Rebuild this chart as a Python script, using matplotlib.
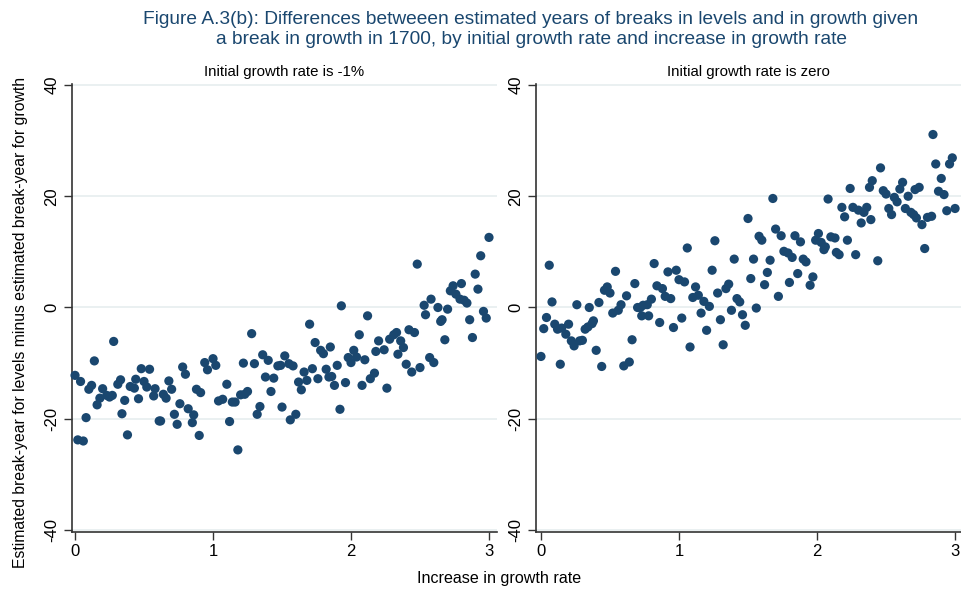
import matplotlib
matplotlib.use('Agg')
import matplotlib.pyplot as plt

# Left panel: initial growth rate -1%
x_neg = [0.00, 0.02, 0.04, 0.06, 0.08, 0.10, 0.12, 0.14, 0.16, 0.18, 0.20, 0.23, 0.25, 0.27, 0.28,
         0.31, 0.33, 0.34, 0.36, 0.38, 0.40, 0.43, 0.44, 0.46, 0.48, 0.50, 0.52, 0.54, 0.57, 0.58,
         0.61, 0.62, 0.64, 0.66, 0.68, 0.70, 0.72, 0.74, 0.76, 0.78, 0.80, 0.82, 0.85, 0.86, 0.88,
         0.90, 0.91, 0.94, 0.96, 1.00, 1.02, 1.04, 1.07, 1.10, 1.12, 1.14, 1.16, 1.18, 1.20, 1.22,
         1.23, 1.25, 1.28, 1.30, 1.32, 1.34, 1.36, 1.38, 1.40, 1.42, 1.44, 1.47, 1.49, 1.50, 1.52,
         1.55, 1.56, 1.58, 1.60, 1.62, 1.64, 1.66, 1.68, 1.70, 1.72, 1.74, 1.76, 1.78, 1.80, 1.82,
         1.84, 1.85, 1.86, 1.88, 1.90, 1.92, 1.93, 1.96, 1.98, 2.00, 2.02, 2.04, 2.06, 2.08, 2.10,
         2.12, 2.14, 2.17, 2.18, 2.20, 2.24, 2.26, 2.28, 2.31, 2.33, 2.34, 2.36, 2.38, 2.40, 2.42,
         2.44, 2.46, 2.48, 2.50, 2.53, 2.54, 2.57, 2.58, 2.60, 2.63, 2.65, 2.66, 2.68, 2.70, 2.72,
         2.74, 2.76, 2.79, 2.80, 2.82, 2.84, 2.86, 2.88, 2.90, 2.92, 2.94, 2.96, 2.98, 3.00]
y_neg = [-12.2, -23.8, -13.3, -24.0, -19.8, -14.7, -14.0, -9.6, -17.5, -16.3, -14.6, -15.8, -16.1, -15.8, -6.1,
         -13.8, -13.0, -19.1, -16.7, -22.9, -14.2, -14.5, -12.9, -16.4, -11.0, -13.3, -14.3, -11.1, -15.9, -14.6,
         -20.4, -20.4, -15.6, -16.3, -13.2, -14.7, -19.2, -21.0, -17.3, -10.7, -12.0, -18.2, -20.7, -19.3, -14.7,
         -23.0, -15.3, -9.9, -11.2, -9.2, -10.4, -16.8, -16.5, -13.8, -20.5, -17.0, -17.0, -25.6, -15.7, -10.0,
         -15.6, -15.1, -4.7, -10.1, -19.2, -17.8, -8.5, -12.5, -9.5, -15.1, -12.7, -10.5, -10.4, -17.9, -8.7,
         -10.1, -20.2, -10.5, -19.2, -13.4, -14.8, -11.6, -13.1, -3.0, -11.0, -6.3, -12.8, -7.7, -8.3, -11.1,
         -12.5, -7.1, -12.4, -14.0, -10.4, -18.3, 0.3, -13.5, -9.0, -9.9, -7.7, -8.9, -4.9, -14.0, -9.4,
         -1.5, -12.8, -11.8, -7.9, -6.0, -7.6, -14.5, -5.7, -4.9, -4.5, -8.4, -6.0, -7.2, -10.2, -4.0,
         -11.6, -4.5, 7.8, -10.8, 0.4, -1.3, -9.0, 1.5, -9.9, 0.0, -2.5, -2.2, -5.8, -0.3, 3.0,
         3.9, 2.4, 1.5, 4.3, 1.3, 0.8, -2.2, -5.4, 6.0, 3.3, 9.3, -0.7, -1.9, 12.6]

# Right panel: initial growth rate zero
x_zero = [0.00, 0.02, 0.04, 0.06, 0.08, 0.10, 0.12, 0.14, 0.15, 0.18, 0.20, 0.22, 0.24, 0.26, 0.28,
          0.30, 0.32, 0.34, 0.35, 0.37, 0.38, 0.40, 0.42, 0.44, 0.46, 0.48, 0.50, 0.52, 0.54, 0.56,
          0.58, 0.60, 0.62, 0.64, 0.66, 0.68, 0.70, 0.72, 0.73, 0.74, 0.77, 0.78, 0.80, 0.82, 0.84,
          0.86, 0.88, 0.90, 0.92, 0.94, 0.96, 0.98, 1.00, 1.02, 1.04, 1.06, 1.08, 1.10, 1.12, 1.14,
          1.16, 1.18, 1.20, 1.22, 1.24, 1.26, 1.28, 1.30, 1.32, 1.34, 1.36, 1.38, 1.40, 1.42, 1.44,
          1.46, 1.48, 1.50, 1.52, 1.54, 1.56, 1.58, 1.60, 1.62, 1.64, 1.66, 1.68, 1.70, 1.72, 1.74,
          1.76, 1.79, 1.80, 1.82, 1.84, 1.86, 1.88, 1.90, 1.92, 1.95, 1.97, 1.99, 2.01, 2.03, 2.05,
          2.06, 2.08, 2.10, 2.13, 2.14, 2.16, 2.18, 2.20, 2.22, 2.24, 2.26, 2.28, 2.30, 2.32, 2.34,
          2.36, 2.38, 2.39, 2.40, 2.44, 2.46, 2.48, 2.50, 2.52, 2.54, 2.56, 2.58, 2.60, 2.62, 2.64,
          2.66, 2.68, 2.70, 2.71, 2.72, 2.74, 2.76, 2.78, 2.80, 2.83, 2.84, 2.86, 2.88, 2.90, 2.92,
          2.94, 2.96, 2.98, 3.00]
y_zero = [-8.8, -3.8, -1.8, 7.6, 1.0, -3.0, -3.9, -10.2, -3.7, -4.8, -3.0, -6.0, -6.9, 0.5, -6.0,
          -5.9, -3.9, -3.5, 0.0, -2.9, -2.4, -7.7, 0.9, -10.6, 3.1, 3.7, 2.6, -1.0, 6.5, -0.5,
          0.5, -10.5, 2.1, -9.8, -5.8, 4.3, 0.0, 0.0, -1.5, 0.4, 0.5, -1.5, 1.5, 7.9, 3.9,
          -2.7, 3.4, 2.0, 6.4, 1.6, -3.6, 6.7, 5.0, -1.9, 4.6, 10.7, -7.1, 1.8, 3.7, 2.2,
          -1.0, 1.1, -4.1, 0.2, 6.7, 12.0, 2.6, -2.2, -6.7, 3.4, 4.2, -0.5, 8.7, 1.6, 1.0,
          -1.3, -3.2, 16.0, 5.2, 8.7, -0.1, 12.8, 12.1, 4.1, 6.3, 8.5, 19.6, 14.1, 2.0, 12.9,
          10.1, 9.8, 4.5, 9.0, 12.9, 6.1, 11.8, 8.7, 8.2, 4.0, 5.5, 12.1, 13.3, 11.7, 10.4,
          10.9, 19.5, 12.7, 12.5, 9.9, 9.5, 18.0, 16.3, 12.1, 21.4, 18.0, 9.5, 17.5, 15.2, 17.1,
          18.0, 21.6, 15.8, 22.8, 8.4, 25.1, 21.0, 20.4, 17.8, 16.7, 19.8, 19.0, 21.3, 22.5, 17.8,
          20.0, 17.1, 16.7, 21.2, 16.1, 21.6, 14.9, 10.6, 16.2, 16.4, 31.1, 25.8, 20.9, 23.2, 20.3,
          17.4, 25.8, 26.9, 17.8]

panel_titles = ['Initial growth rate is -1%', 'Initial growth rate is zero']
y_ticks = [-40, -20, 0, 20, 40]
x_ticks = [0, 1, 2, 3]

navy = '#1a476f'
grid_col = '#e6eeef'
plt.rcParams['font.family'] = ['Liberation Sans', 'DejaVu Sans']

W, H = 961, 595
fig = plt.figure(figsize=(W / 100, H / 100), dpi=100)
fig.patch.set_facecolor('white')


def px_axes(left, top, right, bottom):
    return fig.add_axes([left / W, 1 - bottom / H, (right - left) / W, (bottom - top) / H])


panels = [
    (px_axes(72, 84, 497, 532), x_neg, y_neg, (-0.022, 3.058)),
    (px_axes(536, 84, 961, 532), x_zero, y_zero, (-0.036, 3.043)),
]

for (ax, xs, ys, xl), ttl in zip(panels, panel_titles):
    ax.scatter(xs, ys, s=44, color=navy, edgecolors='none', zorder=3, clip_on=False)
    ax.set_xlim(*xl)
    ax.set_ylim(-40.36, 40.18)
    ax.set_yticks(y_ticks)
    ax.set_yticklabels([str(t) for t in y_ticks], rotation=90, va='center', fontsize=12)
    ax.set_xticks(x_ticks)
    ax.set_xticklabels([str(t) for t in x_ticks], fontsize=12)
    ax.tick_params(direction='out', length=6, width=1, color='#333333', pad=3)
    for sp in ['top', 'right']:
        ax.spines[sp].set_visible(False)
    for sp in ['left', 'bottom']:
        ax.spines[sp].set_color('#333333')
        ax.spines[sp].set_linewidth(1.2)
    for t in y_ticks:
        ax.axhline(t, color=grid_col, lw=1.2, zorder=1)
    ax.text(0.5, 1 + 12 / 448, ttl, transform=ax.transAxes, ha='center', va='center', fontsize=10.8)

fig.text(531 / W, 1 - 20 / H, 'Figure A.3(b): Differences betweeen estimated years of breaks in levels and in growth given',
         ha='center', va='center', fontsize=13.8, color=navy)
fig.text(531 / W, 1 - 40 / H, 'a break in growth in 1700, by initial growth rate and increase in growth rate',
         ha='center', va='center', fontsize=13.8, color=navy)
fig.text(21 / W, 1 - 322 / H, 'Estimated break-year for levels minus estimated break-year for growth',
         rotation=90, ha='center', va='center', fontsize=11.3)
fig.text(499 / W, 1 - 579 / H, 'Increase in growth rate', ha='center', va='center', fontsize=11.6)

plt.savefig('out.png', dpi=100, facecolor='white')
